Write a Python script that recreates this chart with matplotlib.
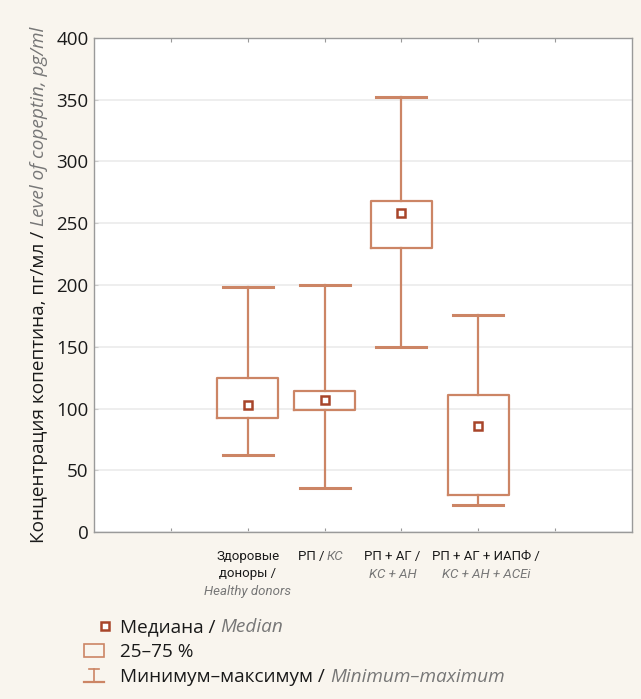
import matplotlib
matplotlib.use("Agg")
import matplotlib.pyplot as plt
from matplotlib.transforms import IdentityTransform
from matplotlib.lines import Line2D
from matplotlib.patches import Rectangle

# data (pg/ml)
positions = [2, 3, 4, 5]
mins = [62, 36, 150, 22]
q1 = [92, 99, 230, 30]
medians = [103, 107, 258, 86]
q3 = [125, 114, 268, 111]
maxs = [198, 200, 352, 176]

# x labels: each line is a list of (text, is_english)
x_labels = [
    [[("Здоровые", False)], [("доноры /", False)], [("Healthy donors", True)]],
    [[("РП /", False), ("КС", True)]],
    [[("РП + АГ /", False)], [("KC + AH", True)]],
    [[("РП + АГ + ИАПФ /", False)], [("KC + AH + ACEi", True)]],
]
# the labels are not exactly centred under the boxes in the reference
label_shift = [0, -4, -9, 8]
ylabel_parts = [("Концентрация копептина, пг/мл /", False), ("Level of copeptin, pg/ml", True)]
legend_items = [
    [("Медиана /", False), ("Median", True)],
    [("25–75 %", False)],
    [("Минимум–максимум /", False), ("Minimum–maximum", True)],
]

BG = "#f9f5ee"
BOX = "#cc8565"
MED = "#a8452a"
BLACK = "#1a1a1a"
GRAY = "#777777"
MAIN_FONT = ["Open Sans", "DejaVu Sans"]
NARROW = ["Roboto", "DejaVu Sans"]

W, H = 641, 699
fig = plt.figure(figsize=(W / 100, H / 100), dpi=100, facecolor=BG)
ax = fig.add_axes([94 / W, 1 - 532 / H, (632 - 94) / W, (532 - 38) / H])
ax.set_facecolor("white")

stats = []
for i in range(len(positions)):
    stats.append(dict(whislo=mins[i], q1=q1[i], med=medians[i], q3=q3[i], whishi=maxs[i]))

ax.bxp(stats, positions=positions, widths=0.8, capwidths=0.65, showfliers=False,
       boxprops=dict(color=BOX, linewidth=1.6),
       whiskerprops=dict(color=BOX, linewidth=1.6),
       capprops=dict(color=BOX, linewidth=2.2),
       medianprops=dict(linewidth=0))
ax.plot(positions, medians, linestyle="none", marker="s", markersize=5.5,
        markerfacecolor="white", markeredgecolor=MED, markeredgewidth=1.8, zorder=5)

ax.set_xlim(0, 7)
ax.set_ylim(0, 400)
ax.set_xticks(range(1, 7))
ax.set_xticklabels([])
ax.set_yticks(range(0, 401, 50))
ax.tick_params(axis="x", direction="in", length=3, color="#999999", top=True)
ax.tick_params(axis="y", direction="in", length=3, color="#cccccc", labelsize=13.5,
               labelcolor=BLACK, pad=4)
for lab in ax.get_yticklabels():
    lab.set_family(MAIN_FONT)
ax.yaxis.grid(True, color="#ebebeb", linewidth=1.2)
ax.set_axisbelow(True)
for sp in ax.spines.values():
    sp.set_color("#9a9a9a")
    sp.set_linewidth(1.0)

renderer = fig.canvas.get_renderer()


def rich_line(x, y, parts, size, family, ha="center", gap=4, rotation=0):
    # x, y in figure pixels (y from bottom); lays parts out along the reading direction
    objs = []
    for s, eng in parts:
        t = fig.text(0, 0, s, transform=IdentityTransform(), fontsize=size, family=family,
                     color=GRAY if eng else BLACK, style="italic" if eng else "normal",
                     ha="left", va="baseline", rotation=rotation, rotation_mode="anchor")
        objs.append(t)
    if rotation == 90:
        lens = [t.get_window_extent(renderer).height for t in objs]
    else:
        lens = [t.get_window_extent(renderer).width for t in objs]
    total = sum(lens) + gap * (len(objs) - 1)
    start = -total / 2 if ha == "center" else 0
    pos = start
    for t, l in zip(objs, lens):
        if rotation == 90:
            t.set_position((x, y + pos))
        else:
            t.set_position((x + pos, y))
        pos += l + gap


# x labels under the boxes
for p, shift, lines in zip(positions, label_shift, x_labels):
    xpix = ax.transData.transform((p, 0))[0] + shift
    for k, parts in enumerate(lines):
        rich_line(xpix, H - (560 + 17.5 * k), parts, 9.5, NARROW, gap=3)

# rotated y label, centred on the axes
rich_line(44, H - 285, ylabel_parts, 13.7, MAIN_FONT, gap=5, rotation=90)

# legend
fig.add_artist(Line2D([105 / W], [1 - 626 / H], marker="s", markersize=5.5,
                      markerfacecolor="white", markeredgecolor=MED, markeredgewidth=1.8))
fig.add_artist(Rectangle((84 / W, 1 - 657 / H), 20 / W, 13 / H, fill=False,
                         edgecolor=BOX, linewidth=1.2, transform=fig.transFigure))
fig.add_artist(Line2D([84 / W, 104 / W], [1 - 682 / H, 1 - 682 / H], color=BOX, linewidth=1.6))
fig.add_artist(Line2D([94 / W, 94 / W], [1 - 682 / H, 1 - 669 / H], color=BOX, linewidth=1.2))
fig.add_artist(Line2D([89 / W, 99 / W], [1 - 669 / H, 1 - 669 / H], color=BOX, linewidth=1.2))
for k, parts in enumerate(legend_items):
    rich_line(120, H - (632 + 25 * k), parts, 13.7, MAIN_FONT, ha="left", gap=5)

fig.savefig("out.png", dpi=100, facecolor=BG)
